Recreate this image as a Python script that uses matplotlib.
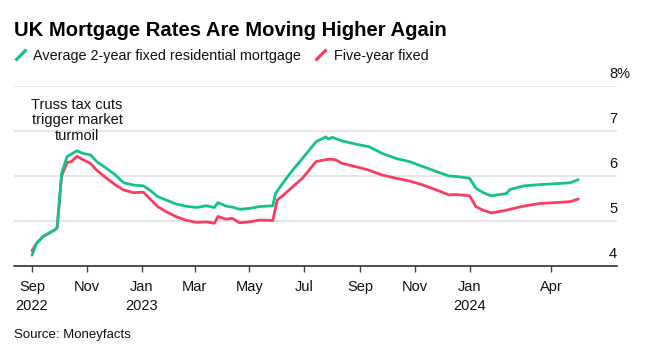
import matplotlib
matplotlib.use("Agg")
import matplotlib.pyplot as plt
import matplotlib.transforms as mtransforms
from matplotlib.lines import Line2D
import pandas as pd

# ---------------- data ----------------
green_dates = ["2022-09-01", "2022-09-06", "2022-09-13", "2022-09-20", "2022-09-27", "2022-09-29",
               "2022-10-04", "2022-10-10", "2022-10-15", "2022-10-21", "2022-10-28",
               "2022-11-05", "2022-11-12", "2022-11-23", "2022-12-03", "2022-12-12", "2022-12-23",
               "2023-01-03", "2023-01-10", "2023-01-19", "2023-01-28", "2023-02-08", "2023-02-19",
               "2023-03-03", "2023-03-14", "2023-03-23", "2023-03-27", "2023-04-05", "2023-04-12",
               "2023-04-20", "2023-05-01", "2023-05-12", "2023-05-27", "2023-05-30", "2023-06-07",
               "2023-06-18", "2023-06-29", "2023-07-14", "2023-07-25", "2023-07-28", "2023-08-01",
               "2023-08-12", "2023-08-27", "2023-09-11", "2023-09-26", "2023-10-11", "2023-10-26",
               "2023-11-10", "2023-11-25", "2023-12-09", "2023-12-17", "2024-01-01", "2024-01-08",
               "2024-01-16", "2024-01-25", "2024-02-11", "2024-02-15", "2024-03-01", "2024-03-19",
               "2024-04-07", "2024-04-22", "2024-05-01"]
green_vals = [4.24, 4.50, 4.65, 4.73, 4.81, 4.85,
              6.06, 6.43, 6.49, 6.56, 6.50,
              6.47, 6.32, 6.17, 6.02, 5.85, 5.80,
              5.78, 5.69, 5.54, 5.47, 5.38, 5.33,
              5.30, 5.34, 5.30, 5.41, 5.33, 5.31,
              5.26, 5.28, 5.32, 5.34, 5.61, 5.84,
              6.13, 6.39, 6.76, 6.87, 6.82, 6.86,
              6.78, 6.71, 6.65, 6.50, 6.39, 6.32,
              6.21, 6.10, 6.00, 5.99, 5.95, 5.73,
              5.63, 5.56, 5.61, 5.70, 5.78, 5.81,
              5.83, 5.85, 5.92]

red_dates = ["2022-09-01", "2022-09-06", "2022-09-13", "2022-09-20", "2022-09-27", "2022-09-29",
             "2022-10-04", "2022-10-10", "2022-10-15", "2022-10-21", "2022-10-28",
             "2022-11-05", "2022-11-12", "2022-11-23", "2022-12-03", "2022-12-12", "2022-12-23",
             "2023-01-03", "2023-01-10", "2023-01-19", "2023-01-28", "2023-02-08", "2023-02-19",
             "2023-03-03", "2023-03-14", "2023-03-23", "2023-03-27", "2023-04-05", "2023-04-12",
             "2023-04-20", "2023-05-01", "2023-05-12", "2023-05-27", "2023-06-01", "2023-06-07",
             "2023-06-18", "2023-06-29", "2023-07-14", "2023-07-27", "2023-08-01", "2023-08-05",
             "2023-08-12", "2023-08-27", "2023-09-11", "2023-09-26", "2023-10-11", "2023-10-26",
             "2023-11-10", "2023-11-25", "2023-12-09", "2023-12-17", "2024-01-01", "2024-01-08",
             "2024-01-16", "2024-01-25", "2024-02-11", "2024-02-15", "2024-03-01", "2024-03-19",
             "2024-04-07", "2024-04-22", "2024-05-01"]
red_vals = [4.34, 4.50, 4.65, 4.73, 4.81, 4.85,
            6.00, 6.30, 6.32, 6.44, 6.36,
            6.28, 6.13, 5.95, 5.80, 5.69, 5.63,
            5.64, 5.50, 5.32, 5.21, 5.10, 5.02,
            4.97, 4.98, 4.95, 5.10, 5.04, 5.06,
            4.96, 4.98, 5.02, 5.01, 5.47, 5.56,
            5.76, 5.95, 6.32, 6.37, 6.37, 6.36,
            6.28, 6.21, 6.13, 6.02, 5.95, 5.89,
            5.80, 5.69, 5.58, 5.59, 5.56, 5.32,
            5.24, 5.18, 5.24, 5.26, 5.33, 5.39,
            5.41, 5.43, 5.49]

tick_dates = ["2022-09-01", "2022-11-01", "2023-01-01", "2023-03-01", "2023-05-01",
              "2023-07-01", "2023-09-01", "2023-11-01", "2024-01-01", "2024-04-01"]
tick_labels = ["Sep\n2022", "Nov", "Jan\n2023", "Mar", "May", "Jul", "Sep", "Nov",
               "Jan\n2024", "Apr"]
y_ticks = [4, 5, 6, 7, 8]
y_labels = ["4", "5", "6", "7", "8%"]

series_names = ["Average 2-year fixed residential mortgage", "Five-year fixed"]
title = "UK Mortgage Rates Are Moving Higher Again"
annotation_lines = ["Truss tax cuts", "trigger market", "turmoil"]
source = "Source: Moneyfacts"

# ---------------- style ----------------
GREEN = "#14c28a"
RED = "#fc3c5e"
GRID = "#dedede"
AXIS = "#222222"

plt.rcParams['font.family'] = ['Liberation Sans', 'DejaVu Sans']

W, H = 656, 347
fig = plt.figure(figsize=(W / 100, H / 100), dpi=100)


def fx(x):
    return x / W


def fy(y):
    return 1 - y / H


ax_left, ax_right, ax_top, ax_bottom = 14, 617, 86, 266
ax = fig.add_axes([fx(ax_left), fy(ax_bottom), (ax_right - ax_left) / W, (ax_bottom - ax_top) / H])

ax.plot(pd.to_datetime(red_dates), red_vals, color=RED, lw=2.0,
        solid_joinstyle="round", solid_capstyle="round", zorder=3)
ax.plot(pd.to_datetime(green_dates), green_vals, color=GREEN, lw=2.0,
        solid_joinstyle="round", solid_capstyle="round", zorder=4)

ax.set_ylim(4, 8)
ax.set_xlim(pd.Timestamp("2022-08-12"), pd.Timestamp("2024-06-13"))

ax.set_yticks(y_ticks)
ax.yaxis.grid(True, color=GRID, lw=1.1)
ax.tick_params(axis="y", length=0, labelleft=False, labelright=False)
ax.set_axisbelow(True)

for s in ["left", "right", "top"]:
    ax.spines[s].set_visible(False)
ax.spines["bottom"].set_color(AXIS)
ax.spines["bottom"].set_linewidth(1.1)
ax.spines["bottom"].set_zorder(5)

ax.set_xticks(pd.to_datetime(tick_dates))
ax.set_xticklabels(tick_labels)
ax.tick_params(axis="x", direction="out", length=4.5, width=1, color="#444444",
               pad=5.5, labelsize=10.5, labelcolor="#111111")
for t in ax.get_xticklabels():
    t.set_linespacing(1.45)

# y labels above gridlines on the right
trans = mtransforms.blended_transform_factory(ax.transAxes, ax.transData)
off = mtransforms.ScaledTranslation(0, 8 / 100, fig.dpi_scale_trans)
lab_x = (609 - ax_left) / (ax_right - ax_left)
for v, lab in zip(y_ticks, y_labels):
    ax.text(lab_x, v, lab, transform=trans + off, ha="left", va="baseline",
            fontsize=10.5, color="#111111", clip_on=False)

# title
fig.text(fx(13.5), fy(35.7), title, fontsize=14.6, fontweight="bold",
         ha="left", va="baseline", color="#000000")

# legend
fig.add_artist(Line2D([fx(15.5), fx(26.5)], [fy(60.5), fy(49.5)], color=GREEN, lw=2.3,
                      transform=fig.transFigure, solid_capstyle="butt"))
fig.text(fx(33), fy(60), series_names[0], fontsize=10.4, ha="left", va="baseline", color="#111111")
fig.add_artist(Line2D([fx(315.5), fx(326.5)], [fy(60.5), fy(49.5)], color=RED, lw=2.3,
                      transform=fig.transFigure, solid_capstyle="butt"))
fig.text(fx(334), fy(60), series_names[1], fontsize=10.4, ha="left", va="baseline", color="#111111")

# annotation
for i, line in enumerate(annotation_lines):
    fig.text(fx(77), fy(109.3 + 15.1 * i), line, fontsize=10.5, ha="center", va="baseline",
             color="#111111")

# source
fig.text(fx(14), fy(338), source, fontsize=9.5, ha="left", va="baseline", color="#111111")

fig.savefig("out.png", dpi=100)
